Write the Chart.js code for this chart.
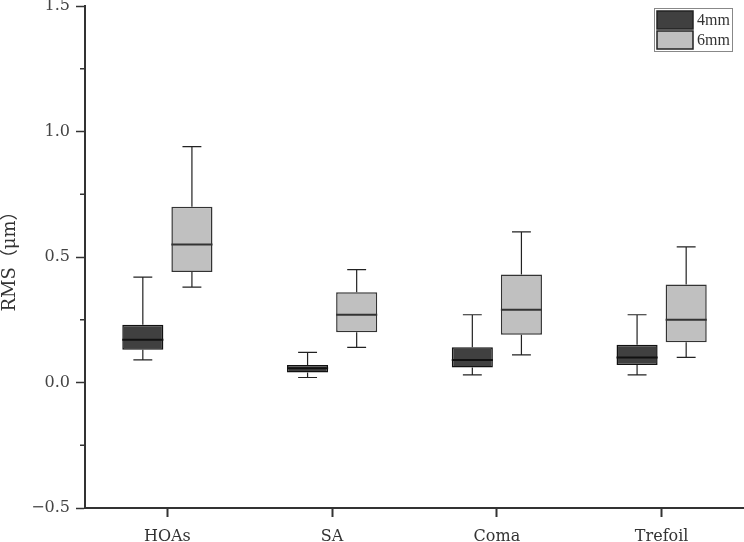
<!DOCTYPE html>
<html>
<head>
<meta charset="utf-8">
<script src="https://cdn.jsdelivr.net/npm/chart.js@4.4.1/dist/chart.umd.min.js"></script>
<style>
  html, body { margin: 0; padding: 0; background: #fff; }
  #wrap { width: 744px; height: 542px; position: relative; }
</style>
</head>
<body>
<div id="wrap"><canvas id="rms-chart"></canvas></div>
<script>
'use strict';

// 카테고리 / 시리즈 값
const categories = ['HOAs', 'SA', 'Coma', 'Trefoil'];
const seriesNames = ['4mm', '6mm'];

const min4 = [0.09, 0.02, 0.03, 0.03];
const q1_4 = [0.13, 0.04, 0.06, 0.07];
const med4 = [0.17, 0.057, 0.09, 0.10];
const q3_4 = [0.23, 0.07, 0.14, 0.15];
const max4 = [0.42, 0.12, 0.27, 0.27];

const min6 = [0.38, 0.14, 0.11, 0.10];
const q1_6 = [0.44, 0.20, 0.19, 0.16];
const med6 = [0.55, 0.27, 0.29, 0.25];
const q3_6 = [0.70, 0.36, 0.43, 0.39];
const max6 = [0.94, 0.45, 0.60, 0.54];

const yTicks = [-0.5, 0.0, 0.5, 1.0, 1.5];

const FONT = '"DejaVu Serif", "Liberation Serif", "Noto Sans CJK SC", serif';
const AXIS = '#333';

const boxStats = [
  { min: min4, med: med4, max: max4, medColor: '#111' },
  { min: min6, med: med6, max: max6, medColor: '#333' },
];

function isMajor(v) {
  return yTicks.some(t => Math.abs(t - v) < 1e-9);
}

function fmtTick(v) {
  if (!isMajor(v)) return '';
  return v < 0 ? '\u2212' + Math.abs(v).toFixed(1) : v.toFixed(1);
}

// 수염 + 중앙값 선
const boxPlugin = {
  id: 'boxWhiskers',
  afterDatasetsDraw(chart) {
    const ctx = chart.ctx;
    const y = chart.scales.y;
    chart.data.datasets.forEach((ds, di) => {
      const meta = chart.getDatasetMeta(di);
      const st = boxStats[di];
      meta.data.forEach((bar, i) => {
        const x = bar.x;
        const half = bar.width / 2;
        const cap = bar.width * 0.23;
        const yMin = y.getPixelForValue(st.min[i]);
        const yMax = y.getPixelForValue(st.max[i]);
        const yQ1 = y.getPixelForValue(ds.data[i][0]);
        const yQ3 = y.getPixelForValue(ds.data[i][1]);
        const yMed = y.getPixelForValue(st.med[i]);
        ctx.save();
        ctx.strokeStyle = '#222';
        ctx.lineWidth = 1.2;
        ctx.beginPath();
        ctx.moveTo(x, yQ3); ctx.lineTo(x, yMax);
        ctx.moveTo(x - cap, yMax); ctx.lineTo(x + cap, yMax);
        ctx.moveTo(x, yQ1); ctx.lineTo(x, yMin);
        ctx.moveTo(x - cap, yMin); ctx.lineTo(x + cap, yMin);
        ctx.stroke();
        ctx.strokeStyle = st.medColor;
        ctx.lineWidth = 2;
        ctx.beginPath();
        ctx.moveTo(x - half, yMed); ctx.lineTo(x + half, yMed);
        ctx.stroke();
        ctx.restore();
      });
    });
  },
  afterDraw(chart) {
    const ctx = chart.ctx;
    const y = chart.scales.y;
    const left = chart.chartArea.left;
    // 보조 눈금 (짧게)
    ctx.save();
    ctx.strokeStyle = AXIS;
    ctx.lineWidth = 1.5;
    y.ticks.forEach(t => {
      if (isMajor(t.value)) return;
      const py = y.getPixelForValue(t.value);
      ctx.beginPath();
      ctx.moveTo(left - 5, py); ctx.lineTo(left, py);
      ctx.stroke();
    });

    // 범례 (오른쪽 위, 테두리 박스)
    const lx = 654, ly = 8, lw = 78, lh = 43;
    ctx.fillStyle = '#fff';
    ctx.fillRect(lx, ly, lw, lh);
    ctx.strokeStyle = '#888';
    ctx.lineWidth = 1;
    ctx.strokeRect(lx + 0.5, ly + 0.5, lw, lh);
    chart.data.datasets.forEach((ds, di) => {
      const sy = ly + 3 + di * 20;
      ctx.fillStyle = ds.backgroundColor;
      ctx.fillRect(657, sy, 36, 18);
      ctx.strokeStyle = '#222';
      ctx.lineWidth = 1.5;
      ctx.strokeRect(657, sy, 36, 18);
      ctx.fillStyle = '#333';
      ctx.font = '16px "Liberation Serif", serif';
      ctx.textAlign = 'right';
      ctx.textBaseline = 'middle';
      ctx.fillText(ds.label, 730, sy + 10);
    });
    ctx.restore();
  },
};

const chart = new Chart(document.getElementById('rms-chart'), {
  type: 'bar',
  data: {
    labels: categories,
    datasets: [
      {
        label: seriesNames[0],
        data: categories.map((_, i) => [q1_4[i], q3_4[i]]),
        backgroundColor: '#404040',
        borderColor: '#111',
        borderWidth: 1.5,
        borderSkipped: false,
      },
      {
        label: seriesNames[1],
        data: categories.map((_, i) => [q1_6[i], q3_6[i]]),
        backgroundColor: '#c0c0c0',
        borderColor: '#333',
        borderWidth: 1.5,
        borderSkipped: false,
      },
    ],
  },
  options: {
    responsive: true,
    maintainAspectRatio: false,
    animation: false,
    categoryPercentage: 0.596,
    barPercentage: 0.837,
    layout: { padding: { top: 6, left: 0, right: 0, bottom: 0 } },
    plugins: {
      legend: { display: false },
      tooltip: { enabled: false },
    },
    scales: {
      x: {
        offset: true,
        border: { display: true, color: AXIS, width: 2 },
        grid: {
          offset: false,
          drawOnChartArea: false,
          drawTicks: true,
          tickLength: 9,
          tickColor: AXIS,
          tickWidth: 2,
        },
        ticks: { color: '#333', padding: 10, font: { family: FONT, size: 16 } },
        afterFit: (s) => { s.height = 34; },
      },
      y: {
        min: -0.5,
        max: 1.5,
        border: { display: true, color: AXIS, width: 2 },
        grid: {
          drawOnChartArea: false,
          drawTicks: true,
          tickLength: 9,
          tickWidth: 1.5,
          tickColor: (c) => (c.tick && isMajor(c.tick.value) ? AXIS : 'rgba(0,0,0,0)'),
        },
        ticks: {
          stepSize: 0.25,
          color: '#444',
          padding: 6,
          font: { family: FONT, size: 16 },
          callback: (v) => fmtTick(v),
        },
        title: {
          display: true,
          text: 'RMS（μm）',
          color: '#333',
          padding: 0,
          font: { family: FONT, size: 18 },
        },
        afterFit: (s) => { s.width = 85; s.paddingTop = 0; s.paddingBottom = 0; },
      },
    },
  },
  plugins: [boxPlugin],
});
</script>
</body>
</html>
